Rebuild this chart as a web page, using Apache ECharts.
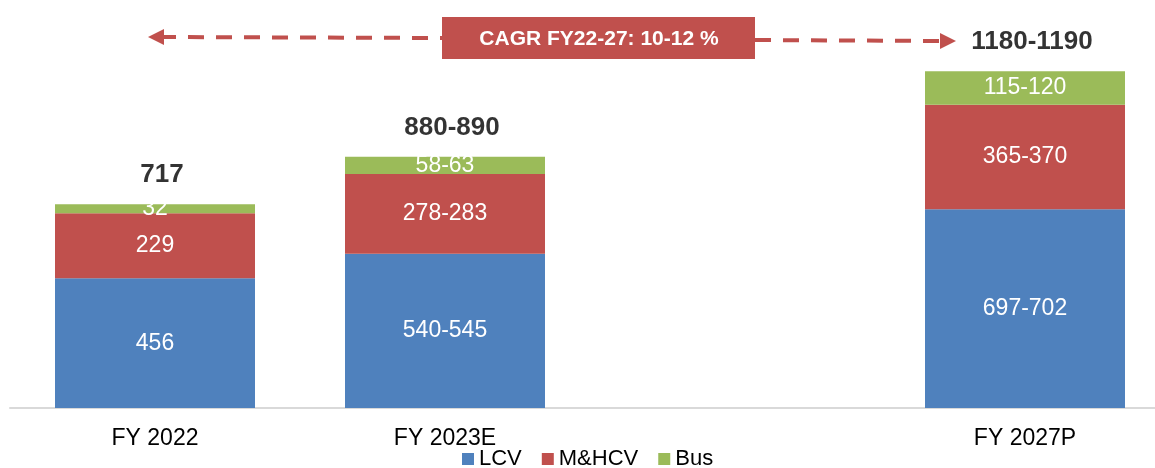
<!DOCTYPE html>
<html>
<head>
<meta charset="utf-8">
<script src="https://cdn.jsdelivr.net/npm/echarts@6/dist/echarts.min.js"></script>
<style>
  html, body { margin: 0; padding: 0; background: #fff; }
  #chart { width: 1155px; height: 468px; }
</style>
</head>
<body>
<div id="chart"></div>
<script>
// categories (the blank one is the gap before FY 2027P)
const categories = ['FY 2022', 'FY 2023E', '', 'FY 2027P'];

// segment values (midpoints of the ranges) and their printed labels
const lcv = [456, 542.5, null, 699.5];
const lcvLabels = ['456', '540-545', '', '697-702'];
const mhcv = [229, 280.5, null, 367.5];
const mhcvLabels = ['229', '278-283', '', '365-370'];
const bus = [32, 60.5, null, 117.5];
const busLabels = ['32', '58-63', '', '115-120'];

// totals on top of each bar
const totalLabels = ['717', '880-890', '', '1180-1190'];

const cagrText = 'CAGR FY22-27: 10-12 %';

const colors = { lcv: '#4F81BD', mhcv: '#C0504D', bus: '#9BBB59' };
const font = '"Liberation Sans", Arial, sans-serif';

const totals = lcv.map((v, i) => v == null ? null : v + mhcv[i] + bus[i]);

function segLabel(labels) {
    return {
        show: true,
        position: 'inside',
        color: '#fff',
        fontFamily: font,
        fontSize: 23,
        formatter: p => labels[p.dataIndex]
    };
}

function barSeries(name, data, labels, color) {
    return {
        name: name,
        type: 'bar',
        stack: 'total',
        barWidth: 200,
        data: data,
        itemStyle: { color: color },
        label: segLabel(labels),
        emphasis: { disabled: true }
    };
}

const chart = echarts.init(document.getElementById('chart'));

const option = {
    animation: false,
    grid: { left: 10, top: 10, width: 1160, height: 398, outerBoundsMode: 'none', containLabel: false },
    legend: {
        left: 457,
        top: 443,
        itemWidth: 12,
        itemHeight: 12,
        itemGap: 20,
        icon: 'rect',
        textStyle: { fontFamily: font, fontSize: 22, color: '#000' },
        data: ['LCV', 'M&HCV', 'Bus']
    },
    xAxis: {
        type: 'category',
        data: categories,
        axisLine: { lineStyle: { color: '#D9D9D9', width: 2 } },
        axisTick: { show: false },
        axisLabel: { fontFamily: font, fontSize: 23, color: '#000', margin: 19 }
    },
    yAxis: {
        type: 'value',
        min: 0,
        max: 1400,
        show: false,
        splitLine: { show: false }
    },
    series: [
        barSeries('LCV', lcv, lcvLabels, colors.lcv),
        barSeries('M&HCV', mhcv, mhcvLabels, colors.mhcv),
        barSeries('Bus', bus, busLabels, colors.bus),
        {
            name: 'total',
            type: 'scatter',
            symbolSize: 0,
            data: totals,
            label: {
                show: true,
                position: 'top',
                distance: 16,
                offset: [7, 0],
                color: '#000',
                fontFamily: font,
                fontWeight: 'bold',
                fontSize: 26,
                formatter: p => totalLabels[p.dataIndex]
            },
            emphasis: { disabled: true },
            silent: true
        }
    ],
    graphic: [
        // dashed CAGR arrow
        {
            type: 'line',
            shape: { x1: 160, y1: 37, x2: 442, y2: 38 },
            style: { stroke: '#C0504D', lineWidth: 4, lineDash: [16, 12] }
        },
        {
            type: 'line',
            shape: { x1: 755, y1: 40, x2: 942, y2: 41 },
            style: { stroke: '#C0504D', lineWidth: 4, lineDash: [16, 12] }
        },
        {
            type: 'polygon',
            shape: { points: [[148, 37], [164, 29], [164, 45]] },
            style: { fill: '#C0504D' }
        },
        {
            type: 'polygon',
            shape: { points: [[956, 41], [940, 33], [940, 49]] },
            style: { fill: '#C0504D' }
        },
        {
            type: 'rect',
            shape: { x: 442, y: 17, width: 313, height: 42 },
            style: { fill: '#C0504D' }
        },
        {
            type: 'text',
            x: 599,
            y: 39,
            style: {
                text: cagrText,
                fill: '#fff',
                font: 'bold 21px ' + font,
                align: 'center',
                verticalAlign: 'middle'
            }
        }
    ]
};

chart.setOption(option);
</script>
</body>
</html>
